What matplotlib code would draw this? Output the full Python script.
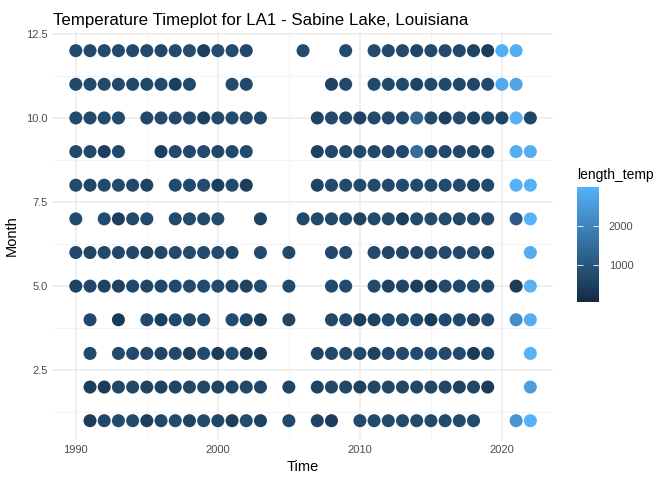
import numpy as np
import matplotlib
matplotlib.use("Agg")
import matplotlib.pyplot as plt
from matplotlib.colors import LinearSegmentedColormap, Normalize

plt.rcParams['font.family'] = ['Liberation Sans', 'DejaVu Sans']

# years with data for each month, and the record count (length_temp) for each
yrs_m12 = list(range(1990, 2003)) + [2006, 2009] + list(range(2011, 2020)) + [2020, 2021]
len_m12 = [744, 720, 744, 744, 744, 744, 700, 744, 800, 520, 780, 760, 700,
           760, 760, 760, 760, 744, 650, 744, 760, 744, 600, 450, 2900, 2900]

yrs_m11 = list(range(1990, 1999)) + [2001, 2002, 2008, 2009] + list(range(2011, 2020)) + [2020, 2021]
len_m11 = [720, 720, 720, 720, 720, 680, 720, 500, 720, 760, 720, 600, 720,
           720, 720, 720, 560, 720, 720, 720, 700, 720, 2800, 2700]

yrs_m10 = list(range(1990, 1994)) + list(range(1995, 2004)) + list(range(2007, 2023))
len_m10 = [744, 744, 744, 744, 680, 744, 744, 744, 520, 744, 760, 760, 700,
           600, 744, 744, 560, 744, 744, 744, 1300, 744, 520, 744, 560, 744, 600, 2950, 650]

yrs_m9 = list(range(1990, 1994)) + list(range(1996, 2003)) + list(range(2007, 2020)) + [2021, 2022]
len_m9 = [720, 720, 520, 720, 520, 720, 720, 760, 700, 720, 760,
          560, 720, 720, 720, 720, 720, 720, 1500, 720, 680, 720, 640, 720, 2880, 2880]

yrs_m8 = list(range(1990, 1996)) + list(range(1997, 2003)) + list(range(2007, 2020)) + [2021, 2022]
len_m8 = [744, 650, 744, 744, 700, 560, 744, 744, 760, 500, 744, 480,
          600, 744, 744, 744, 744, 744, 744, 744, 744, 744, 744, 560, 744, 2976, 2976]

yrs_m7 = [1990, 1992, 1993, 1994, 1995, 1997, 1998, 1999, 2000, 2003] + list(range(2006, 2020)) + [2021, 2022]
len_m7 = [744, 744, 480, 744, 744, 744, 760, 744, 780, 600,
          744, 744, 744, 744, 560, 744, 744, 500, 744, 744, 744, 744, 744, 744, 1100, 2976]

yrs_m6 = list(range(1990, 2002)) + [2003, 2005, 2008, 2009] + list(range(2011, 2020)) + [2022]
len_m6 = [720, 650, 720, 700, 720, 560, 700, 720, 760, 760, 760, 650,
          760, 720, 720, 760, 720, 640, 680, 640, 720, 720, 720, 760, 640, 2880]

yrs_m5 = list(range(1990, 2004)) + [2005, 2008, 2009] + list(range(2011, 2020)) + [2021, 2022]
len_m5 = [560, 700, 600, 560, 700, 650, 700, 700, 760, 744, 744, 700, 560, 780,
          744, 744, 760, 744, 560, 650, 500, 480, 720, 700, 744, 700, 420, 2976]

yrs_m4 = [1991, 1993, 1995, 1996, 1997, 1998, 1999, 2001, 2002, 2003, 2005] + list(range(2008, 2020)) + [2021, 2022]
len_m4 = [720, 400, 720, 500, 720, 680, 760, 760, 650, 420, 640,
          720, 720, 480, 560, 720, 720, 720, 400, 720, 720, 600, 720, 2200, 2880]

yrs_m3 = [1991] + list(range(1993, 2004)) + list(range(2007, 2020)) + [2022]
len_m3 = [744, 744, 744, 720, 650, 720, 480, 744, 420, 760, 420, 400,
          620, 720, 744, 744, 560, 720, 744, 744, 744, 744, 744, 420, 700, 2976]

yrs_m2 = list(range(1991, 2004)) + [2005] + list(range(2007, 2020)) + [2022]
len_m2 = [500, 450, 672, 672, 600, 560, 650, 672, 672, 600, 672, 700, 672, 620,
          600, 672, 672, 540, 672, 672, 672, 672, 672, 672, 600, 672, 450, 2550]

yrs_m1 = list(range(1991, 2004)) + [2005, 2007, 2008] + list(range(2010, 2019)) + [2021, 2022]
len_m1 = [450, 700, 744, 744, 480, 700, 744, 600, 744, 650, 480, 760, 600, 744, 620, 450,
          744, 744, 744, 744, 744, 744, 744, 744, 760, 2350, 2976]

years_by_month = [yrs_m1, yrs_m2, yrs_m3, yrs_m4, yrs_m5, yrs_m6,
                  yrs_m7, yrs_m8, yrs_m9, yrs_m10, yrs_m11, yrs_m12]
lens_by_month = [len_m1, len_m2, len_m3, len_m4, len_m5, len_m6,
                 len_m7, len_m8, len_m9, len_m10, len_m11, len_m12]

x, y, c = [], [], []
for m, (yy, ll) in enumerate(zip(years_by_month, lens_by_month), start=1):
    x += yy
    y += [m] * len(yy)
    c += ll
x = np.array(x); y = np.array(y); c = np.array(c)

cmap = LinearSegmentedColormap.from_list("gg", ["#132B43", "#346E9D", "#56B1F7"])
norm = Normalize(vmin=66, vmax=2976)

fig = plt.figure(figsize=(6.72, 4.8), dpi=100)
ax = fig.add_axes([0.079, 0.085, 0.744, 0.848])

ax.scatter(x, y, c=c, cmap=cmap, norm=norm, s=88, linewidths=0, zorder=3)

ax.set_xlim(1988.4, 2023.6)
ax.set_ylim(0.45, 12.55)
ax.set_xticks([1990, 2000, 2010, 2020])
ax.set_xticks([1995, 2005, 2015], minor=True)
ax.set_yticks([2.5, 5.0, 7.5, 10.0, 12.5])
ax.set_yticklabels(["2.5", "5.0", "7.5", "10.0", "12.5"])
ax.set_yticks([1.25, 3.75, 6.25, 8.75, 11.25], minor=True)
ax.grid(which="major", color="#EBEBEB", linewidth=1.1, zorder=0)
ax.grid(which="minor", color="#F2F2F2", linewidth=0.6, zorder=0)
for s in ax.spines.values():
    s.set_visible(False)
ax.tick_params(which="both", length=0, labelsize=8, labelcolor="#4D4D4D", pad=4)
ax.set_xlabel("Time", fontsize=10.5, labelpad=4)
ax.set_ylabel("Month", fontsize=10.5, labelpad=5)
ax.set_title("Temperature Timeplot for LA1 - Sabine Lake, Louisiana", fontsize=12.2, loc="left", x=0.0, pad=5)

cax = fig.add_axes([577 / 672, 1 - 302 / 480, 22 / 672, 115 / 480])
sm = plt.cm.ScalarMappable(norm=norm, cmap=cmap)
cb = fig.colorbar(sm, cax=cax)
cb.set_ticks([1000, 2000])
cb.outline.set_visible(False)
cb.ax.tick_params(length=4, width=0.6, color="white", direction="in", left=True,
                  labelsize=8, labelcolor="#4D4D4D", pad=7)
cb.ax.set_title("length_temp", fontsize=10, loc="left", pad=6)

fig.savefig("out.png", dpi=100)
